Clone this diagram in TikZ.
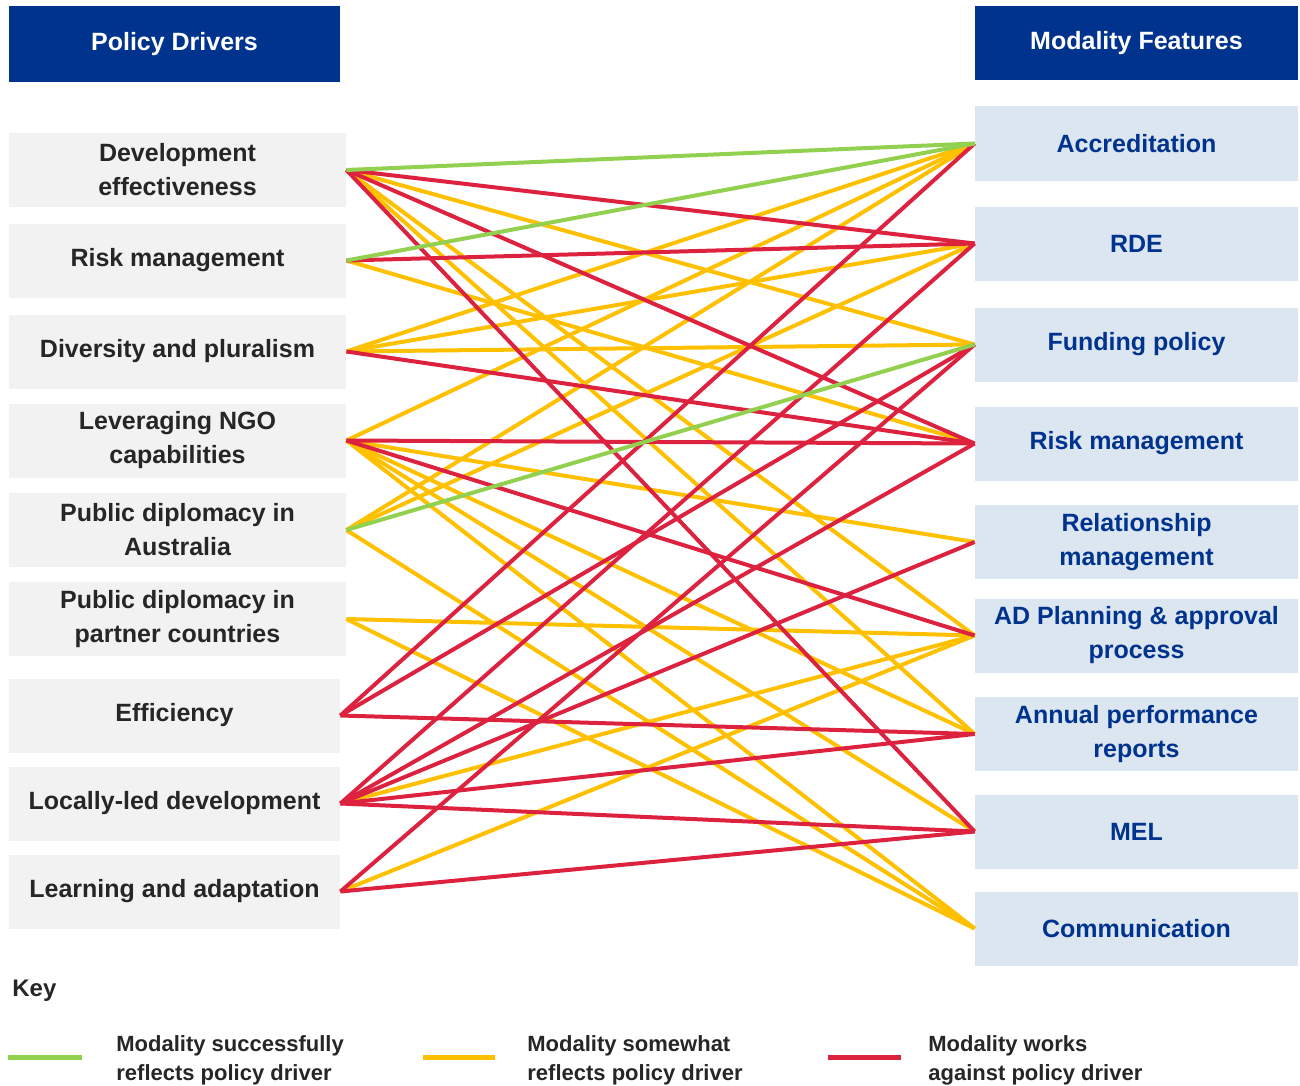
\documentclass[tikz,border=0pt]{standalone}
\usepackage{fontspec}
\setmainfont{Liberation Sans}
\usetikzlibrary{positioning}
\definecolor{navypd}{RGB}{0, 51, 141}
\definecolor{graybox}{RGB}{242, 242, 242}
\definecolor{bluebox}{RGB}{220, 230, 241}
\definecolor{greenln}{RGB}{146, 208, 80}
\definecolor{yellowln}{RGB}{255, 192, 0}
\definecolor{redln}{RGB}{221, 34, 64}

\begin{document}
\begin{tikzpicture}[x=0.5pt, y=-0.5pt,
    font=\fontsize{12.5}{17}\selectfont\bfseries,
    head/.style={fill=navypd, text=white, minimum width=165.5pt, minimum height=38pt, inner sep=0pt},
    drv/.style={fill=graybox, text=black!85, align=center, minimum width=168.5pt, minimum height=37pt, inner sep=0pt},
    feat/.style={fill=bluebox, text=navypd, align=center, minimum width=161.5pt, minimum height=37pt, inner sep=0pt},
    okline/.style={draw=greenln, line width=2pt},
    partline/.style={draw=yellowln, line width=2pt},
    badline/.style={draw=redln, line width=2pt},
    keytext/.style={anchor=west, inner sep=0pt, align=left, text=black!85, yshift=-1.75pt, font=\fontsize{11}{14.5}\selectfont\bfseries}]
    \useasboundingbox (0,0) rectangle (1300,1086);

    % Headers
    \node[head] (hdrL) at (174.5,44) {Policy Drivers};
    \node[head, minimum width=161.5pt, minimum height=37pt] (hdrR) at (1136.5,43) {Modality Features};

    % Policy drivers
    \node[drv] (devEff) at (177.5,170) {Development\\effectiveness};
    \node[drv] (riskL) at (177.5,260.5) {Risk management};
    \node[drv] (divPlu) at (177.5,351.5) {Diversity and pluralism};
    \node[drv] (ngo) at (177.5,440.5) {Leveraging NGO\\capabilities};
    \node[drv] (pdAus) at (177.5,530) {Public diplomacy in\\Australia};
    \node[drv] (pdPart) at (177.5,619) {Public diplomacy in\\partner countries};
    \node[drv, minimum width=165.5pt] (eff) at (174.5,715.5) {Efficiency};
    \node[drv, minimum width=165.5pt] (local) at (174.5,803.5) {Locally-led development};
    \node[drv, minimum width=165.5pt] (learn) at (174.5,891.5) {Learning and adaptation};

    % Modality features
    \node[feat] (accr) at (1136.5,143.5) {Accreditation};
    \node[feat] (rde) at (1136.5,243.5) {RDE};
    \node[feat] (fund) at (1136.5,344.5) {Funding policy};
    \node[feat] (riskR) at (1136.5,443.5) {Risk management};
    \node[feat] (rel) at (1136.5,542) {Relationship\\management};
    \node[feat] (adp) at (1136.5,635.5) {AD Planning \& approval\\process};
    \node[feat] (apr) at (1136.5,734) {Annual performance\\reports};
    \node[feat] (mel) at (1136.5,831.5) {MEL};
    \node[feat] (comm) at (1136.5,928.5) {Communication};

    % Yellow lines
    \draw[partline] (devEff.east) -- (fund.west);
    \draw[partline] (devEff.east) -- (adp.west);
    \draw[partline] (devEff.east) -- (apr.west);
    \draw[partline] (riskL.east) -- (riskR.west);
    \draw[partline] (divPlu.east) -- (accr.west);
    \draw[partline] (divPlu.east) -- (rde.west);
    \draw[partline] (divPlu.east) -- (fund.west);
    \draw[partline] (ngo.east) -- (accr.west);
    \draw[partline] (ngo.east) -- (rel.west);
    \draw[partline] (ngo.east) -- (apr.west);
    \draw[partline] (ngo.east) -- (mel.west);
    \draw[partline] (ngo.east) -- (comm.west);
    \draw[partline] (pdAus.east) -- (accr.west);
    \draw[partline] (pdAus.east) -- (rde.west);
    \draw[partline] (pdAus.east) -- (comm.west);
    \draw[partline] (pdPart.east) -- (adp.west);
    \draw[partline] (pdPart.east) -- (comm.west);
    \draw[partline] (local.east) -- (adp.west);
    \draw[partline] (learn.east) -- (adp.west);

    % Red lines
    \draw[badline] (devEff.east) -- (rde.west);
    \draw[badline] (devEff.east) -- (riskR.west);
    \draw[badline] (devEff.east) -- (mel.west);
    \draw[badline] (riskL.east) -- (rde.west);
    \draw[badline] (divPlu.east) -- (riskR.west);
    \draw[badline] (ngo.east) -- (riskR.west);
    \draw[badline] (ngo.east) -- (adp.west);
    \draw[badline] (eff.east) -- (accr.west);
    \draw[badline] (eff.east) -- (fund.west);
    \draw[badline] (eff.east) -- (apr.west);
    \draw[badline] (local.east) -- (rde.west);
    \draw[badline] (local.east) -- (riskR.west);
    \draw[badline] (local.east) -- (rel.west);
    \draw[badline] (local.east) -- (apr.west);
    \draw[badline] (local.east) -- (mel.west);
    \draw[badline] (learn.east) -- (fund.west);
    \draw[badline] (learn.east) -- (mel.west);

    % Green lines
    \draw[okline] (devEff.east) -- (accr.west);
    \draw[okline] (riskL.east) -- (accr.west);
    \draw[okline] (pdAus.east) -- (fund.west);

    % Key
    \node[anchor=west, inner sep=0pt, text=black!85, font=\fontsize{12}{14}\selectfont\bfseries] (key) at (12,991) {Key};
    \coordinate (keyG1) at (8,1057);
    \coordinate (keyG2) at (82,1057);
    \draw[okline, line width=2.5pt] (keyG1) -- (keyG2);
    \node[keytext, right=17pt of keyG2] (keyGtxt) {Modality successfully\\reflects policy driver};
    \coordinate (keyY1) at (423,1057);
    \coordinate (keyY2) at (495,1057);
    \draw[partline, line width=2.5pt] (keyY1) -- (keyY2);
    \node[keytext, right=16pt of keyY2] (keyYtxt) {Modality somewhat\\reflects policy driver};
    \coordinate (keyR1) at (828,1057);
    \coordinate (keyR2) at (901,1057);
    \draw[badline, line width=2.5pt] (keyR1) -- (keyR2);
    \node[keytext, right=13.5pt of keyR2] (keyRtxt) {Modality works\\against policy driver};
\end{tikzpicture}
\end{document}
